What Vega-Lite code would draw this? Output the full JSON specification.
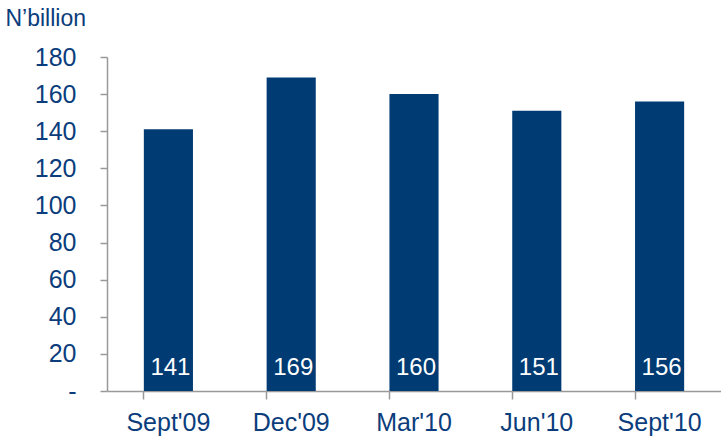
{
  "$schema": "https://vega.github.io/schema/vega-lite/v6.json",
  "width": 614,
  "height": 334,
  "autosize": {"type": "none"},
  "padding": {"left": 107, "top": 57, "right": 0, "bottom": 49},
  "background": "white",
  "config": {
    "view": {"stroke": null},
    "font": "Liberation Sans",
    "axis": {"grid": false, "domainColor": "#999999", "tickColor": "#999999", "labelColor": "#0B3D7C", "labelFont": "Liberation Sans", "labelFontSize": 25, "titleFont": "Liberation Sans", "labelOverlap": false, "labelFlush": false}
  },
  "data": {
    "values": [
      {"period": "Sept'09", "value": 141},
      {"period": "Dec'09", "value": 169},
      {"period": "Mar'10", "value": 160},
      {"period": "Jun'10", "value": 151},
      {"period": "Sept'10", "value": 156}
    ]
  },
  "encoding": {
    "x": {
      "field": "period", "type": "nominal", "sort": null,
      "scale": {"paddingInner": 0.6, "paddingOuter": 0.3},
      "axis": {"title": null, "labelAngle": 0, "bandPosition": 0, "tickSize": 8, "labelPadding": 11, "domainWidth": 1.5, "tickWidth": 1.5}
    }
  },
  "layer": [
    {
      "mark": {"type": "bar", "color": "#003B73"},
      "encoding": {
        "y": {
          "field": "value", "type": "quantitative",
          "scale": {"domain": [0, 180], "nice": false},
          "axis": {
            "values": [0, 20, 40, 60, 80, 100, 120, 140, 160, 180],
            "labelExpr": "datum.value == 0 ? '-\u00a0\u00a0\u00a0\u00a0' : datum.label",
            "tickSize": 7, "labelPadding": 24, "domainWidth": 1.5, "tickWidth": 1.5,
            "title": "N’billion", "titleAngle": 0, "titleAlign": "left", "titleBaseline": "alphabetic",
            "titleX": -102, "titleY": -32, "titleFontSize": 23, "titleFontWeight": "normal", "titleColor": "#0B3D7C"
          }
        }
      }
    },
    {
      "mark": {"type": "text", "color": "white", "fontSize": 24, "baseline": "alphabetic", "dy": -16, "dx": 2},
      "encoding": {
        "y": {
          "datum": 0, "type": "quantitative",
          "scale": {"domain": [0, 180], "nice": false},
          "axis": {
            "values": [0, 20, 40, 60, 80, 100, 120, 140, 160, 180],
            "labelExpr": "datum.value == 0 ? '-\u00a0\u00a0\u00a0\u00a0' : datum.label",
            "tickSize": 7, "labelPadding": 24, "domainWidth": 1.5, "tickWidth": 1.5,
            "title": "N’billion", "titleAngle": 0, "titleAlign": "left", "titleBaseline": "alphabetic",
            "titleX": -102, "titleY": -32, "titleFontSize": 23, "titleFontWeight": "normal", "titleColor": "#0B3D7C"
          }
        },
        "text": {"field": "value", "type": "quantitative"}
      }
    }
  ]
}
